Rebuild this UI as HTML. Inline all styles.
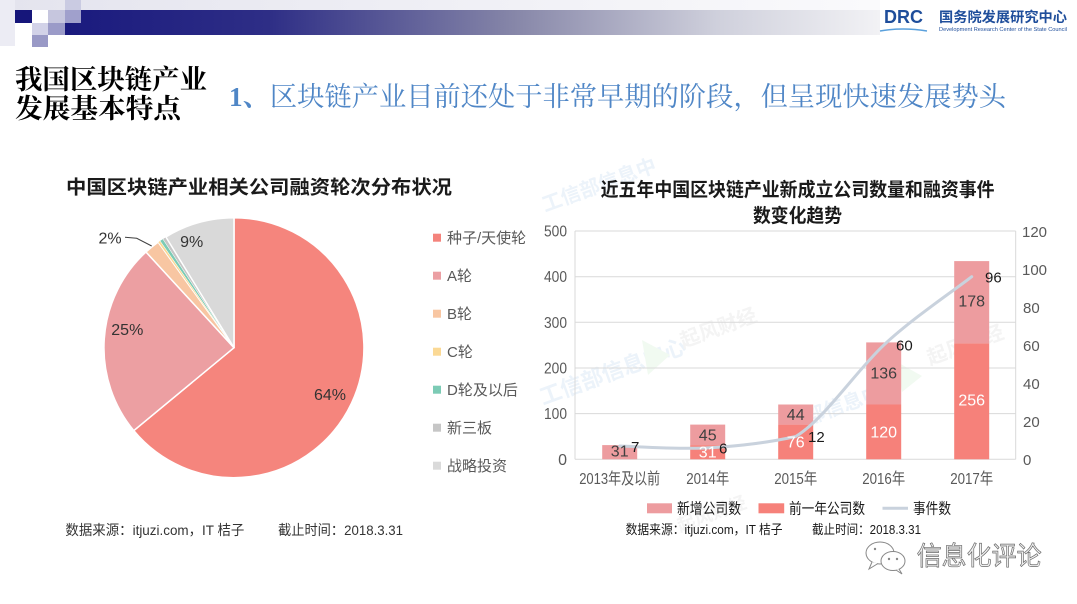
<!DOCTYPE html>
<html><head><meta charset="utf-8"><style>
html,body{margin:0;padding:0;background:#fff;}
svg{display:block;}
text{font-family:"Liberation Sans","Noto Sans CJK SC",sans-serif;}
.serif{font-family:"Liberation Serif","Noto Serif CJK SC",serif;}
</style></head><body>
<svg width="1077" height="604" viewBox="0 0 1077 604" xmlns="http://www.w3.org/2000/svg">
<defs>
<linearGradient id="bar" x1="0" y1="0" x2="1" y2="0">
<stop offset="0" stop-color="#1a1a7e"/>
<stop offset="0.25" stop-color="#2e2e86"/>
<stop offset="0.55" stop-color="#8686a8"/>
<stop offset="0.8" stop-color="#cfd0dc"/>
<stop offset="1" stop-color="#f2f2f5"/>
</linearGradient>
<linearGradient id="top" x1="0" y1="0" x2="1" y2="0">
<stop offset="0" stop-color="#e4e4ee"/>
<stop offset="1" stop-color="#fafafc"/>
</linearGradient>
</defs>
<rect width="1077" height="604" fill="#fff"/>

<!-- header -->
<rect x="0" y="0" width="880" height="10" fill="url(#top)"/>
<rect x="0" y="0" width="15" height="46" fill="#ececf4"/>
<rect x="65" y="10" width="815" height="25" fill="url(#bar)"/>
<rect x="15" y="10" width="17" height="13" fill="#16167a"/>
<rect x="48" y="10" width="17" height="13" fill="#c6c6de"/>
<rect x="65" y="0" width="16" height="10" fill="#cacbe2"/>
<rect x="65" y="10" width="16" height="13" fill="#a0a0cc"/>
<rect x="32" y="23" width="16" height="12" fill="#d2d2e8"/>
<rect x="48" y="23" width="17" height="12" fill="#9b9bc8"/>
<rect x="32" y="35" width="16" height="12" fill="#9999c6"/>

<text x="884" y="23" font-size="18" font-weight="bold" fill="#1f4e9b" textLength="39" lengthAdjust="spacingAndGlyphs">DRC</text>
<path d="M880,31 Q903,27 927,31" stroke="#5aa0dc" stroke-width="1.5" fill="none"/>
<text x="939" y="22" font-size="14" font-weight="bold" fill="#1f4e9b" textLength="128" lengthAdjust="spacingAndGlyphs">国务院发展研究中心</text>
<text x="939" y="31" font-size="5" fill="#1f4e9b" textLength="128" lengthAdjust="spacingAndGlyphs">Development Research Center of the State Council</text>

<!-- titles -->
<text class="serif" x="15" y="89" font-size="27" font-weight="bold" fill="#000" textLength="192" lengthAdjust="spacingAndGlyphs">我国区块链产业</text>
<text class="serif" x="15" y="118" font-size="27" font-weight="bold" fill="#000" textLength="166" lengthAdjust="spacingAndGlyphs">发展基本特点</text>
<text class="serif" x="229" y="106" font-size="27" fill="#4f86c6" textLength="777" lengthAdjust="spacingAndGlyphs"><tspan font-weight="bold">1、</tspan>区块链产业目前还处于非常早期的阶段，但呈现快速发展势头</text>

<!-- watermarks -->
<g opacity="0.35">
<text x="545" y="212" font-size="20" font-weight="bold" fill="#c9dcf0" transform="rotate(-20 545 212)">工信部信息中</text>
<text x="543" y="405" font-size="22" font-weight="bold" fill="#c9dcf0" transform="rotate(-20 543 405)">工信部信息中心</text>
<text x="808" y="425" font-size="20" font-weight="bold" fill="#c9dcf0" transform="rotate(-20 808 425)">部信息中心</text>
<text x="683" y="348" font-size="20" font-weight="bold" fill="#dedede" transform="rotate(-20 683 348)">起风财经</text>
<text x="930" y="365" font-size="20" font-weight="bold" fill="#dedede" transform="rotate(-20 930 365)">起风财经</text>
<text x="680" y="532" font-size="18" font-weight="bold" fill="#dedede" transform="rotate(-20 680 532)">起风财经</text>
<path d="M642,340 L670,355 L648,375 Z" fill="#d8efd8"/>
<path d="M897,362 L922,376 L902,392 Z" fill="#d8efd8"/>
</g>

<!-- PIE -->
<text x="66" y="193.5" font-size="19" font-weight="bold" fill="#1a1a1a" textLength="386" lengthAdjust="spacingAndGlyphs">中国区块链产业相关公司融资轮次分布状况</text>
<g stroke="#fff" stroke-width="1.5" stroke-linejoin="round">
<path d="M234,347.7 L234,217.7 A130,130 0 1 1 133.8,430.6 Z" fill="#f5857d"/>
<path d="M234,347.7 L133.8,430.6 A130,130 0 0 1 146.0,252.0 Z" fill="#ec9fa2"/>
<path d="M234,347.7 L146.0,252.0 A130,130 0 0 1 158.1,242.1 Z" fill="#f8c6a2"/>
<path d="M234,347.7 L158.1,242.1 A130,130 0 0 1 160.0,240.8 Z" fill="#fbd995" stroke-width="0.5"/>
<path d="M234,347.7 L160.0,240.8 A130,130 0 0 1 162.8,238.9 Z" fill="#7ccbb5" stroke-width="0.5"/>
<path d="M234,347.7 L162.8,238.9 A130,130 0 0 1 165.9,237.0 Z" fill="#c6c6c6" stroke-width="0.5"/>
<path d="M234,347.7 L165.9,237.0 A130,130 0 0 1 234,217.7 Z" fill="#d9d9d9"/>
</g>
<polyline points="125,237.3 136.7,238.3 151.7,246" fill="none" stroke="#404040" stroke-width="1"/>
<g font-size="16" fill="#333" text-anchor="middle">
<text x="110" y="243.5">2%</text>
<text x="191.7" y="247">9%</text>
<text x="127.3" y="335">25%</text>
<text x="330" y="400">64%</text>
</g>
<g font-size="15" fill="#595959">
<rect x="433" y="233.7" width="8" height="8" fill="#f4837c"/><text x="447" y="243">种子/天使轮</text>
<rect x="433" y="271.7" width="8" height="8" fill="#eb9fa3"/><text x="447" y="281">A轮</text>
<rect x="433" y="309.7" width="8" height="8" fill="#f8c6a2"/><text x="447" y="319">B轮</text>
<rect x="433" y="347.7" width="8" height="8" fill="#fbd995"/><text x="447" y="357">C轮</text>
<rect x="433" y="385.7" width="8" height="8" fill="#7ccbb5"/><text x="447" y="395">D轮及以后</text>
<rect x="433" y="423.7" width="8" height="8" fill="#c6c6c6"/><text x="447" y="433">新三板</text>
<rect x="433" y="461.7" width="8" height="8" fill="#dadada"/><text x="447" y="471">战略投资</text>
</g>
<text x="65.4" y="535" font-size="14" fill="#333" textLength="179" lengthAdjust="spacingAndGlyphs">数据来源：itjuzi.com，IT 桔子</text>
<text x="278" y="535" font-size="14" fill="#333" textLength="125" lengthAdjust="spacingAndGlyphs">截止时间：2018.3.31</text>

<!-- BAR CHART -->
<text x="600.6" y="196" font-size="19" font-weight="bold" fill="#1a1a1a" textLength="394" lengthAdjust="spacingAndGlyphs">近五年中国区块链产业新成立公司数量和融资事件</text>
<text x="753" y="222" font-size="19" font-weight="bold" fill="#1a1a1a" textLength="89" lengthAdjust="spacingAndGlyphs">数变化趋势</text>

<g stroke="#d9d9d9" stroke-width="1">
<line x1="575" y1="231" x2="1015.7" y2="231"/>
<line x1="575" y1="276.7" x2="1015.7" y2="276.7"/>
<line x1="575" y1="322.3" x2="1015.7" y2="322.3"/>
<line x1="575" y1="368" x2="1015.7" y2="368"/>
<line x1="575" y1="413.6" x2="1015.7" y2="413.6"/>
<line x1="575" y1="459.3" x2="1015.7" y2="459.3"/>
<line x1="575" y1="231" x2="575" y2="459.3"/>
<line x1="1015.7" y1="231" x2="1015.7" y2="459.3"/>
</g>
<g font-size="16" fill="#595959" text-anchor="end">
<text x="567" y="236.5" textLength="23" lengthAdjust="spacingAndGlyphs">500</text>
<text x="567" y="282.2" textLength="23" lengthAdjust="spacingAndGlyphs">400</text>
<text x="567" y="327.8" textLength="23" lengthAdjust="spacingAndGlyphs">300</text>
<text x="567" y="373.5" textLength="23" lengthAdjust="spacingAndGlyphs">200</text>
<text x="567" y="419.1" textLength="23" lengthAdjust="spacingAndGlyphs">100</text>
<text x="567" y="464.8">0</text>
</g>
<g font-size="15" fill="#595959">
<text x="1022" y="237">120</text>
<text x="1022" y="275">100</text>
<text x="1023" y="313">80</text>
<text x="1023" y="351">60</text>
<text x="1023" y="389">40</text>
<text x="1023" y="427">20</text>
<text x="1023" y="465">0</text>
</g>

<!-- bars: prev (bottom) -->
<g fill="#f6817a">
<rect x="690.2" y="445.1" width="35" height="14.2"/>
<rect x="778.2" y="424.6" width="35" height="34.7"/>
<rect x="866.2" y="404.5" width="35" height="54.8"/>
<rect x="954.2" y="343.4" width="35" height="115.9"/>
</g>
<g fill="#ed9c9f">
<rect x="602.2" y="445.1" width="35" height="14.2"/>
<rect x="690.2" y="424.6" width="35" height="20.5"/>
<rect x="778.2" y="404.5" width="35" height="20.1"/>
<rect x="866.2" y="342.4" width="35" height="62.1"/>
<rect x="954.2" y="261.1" width="35" height="82.3"/>
</g>

<path d="M619.7,446 C633.9,446.3 679.5,449.5 707.7,447.9 C736,446.3 767,443 795.7,436.5 C824,419.5 855.3,372 883.7,345.2 C912,318.5 957.5,288 971.7,276.7" fill="none" stroke="#c9d2dd" stroke-width="3" stroke-linecap="round"/>

<g font-size="16" text-anchor="middle">
<text x="619.7" y="456.5" fill="#404040">31</text>
<text x="707.7" y="440.5" fill="#404040">45</text>
<text x="707.7" y="457.5" fill="#fff">31</text>
<text x="795.7" y="420" fill="#404040">44</text>
<text x="795.7" y="447.5" fill="#fff">76</text>
<text x="883.7" y="378.5" fill="#404040">136</text>
<text x="883.7" y="437.5" fill="#fff">120</text>
<text x="971.7" y="306.5" fill="#404040">178</text>
<text x="971.7" y="405.5" fill="#fff">256</text>
</g>
<g font-size="15" fill="#1a1a1a">
<text x="631" y="452">7</text>
<text x="719" y="453.5">6</text>
<text x="808" y="442">12</text>
<text x="896" y="350.5">60</text>
<text x="985" y="282.5">96</text>
</g>
<g font-size="16" fill="#595959" text-anchor="middle">
<text x="619.7" y="484" textLength="81" lengthAdjust="spacingAndGlyphs">2013年及以前</text>
<text x="707.7" y="484" textLength="43" lengthAdjust="spacingAndGlyphs">2014年</text>
<text x="795.7" y="484" textLength="43" lengthAdjust="spacingAndGlyphs">2015年</text>
<text x="883.7" y="484" textLength="43" lengthAdjust="spacingAndGlyphs">2016年</text>
<text x="971.7" y="484" textLength="43" lengthAdjust="spacingAndGlyphs">2017年</text>
</g>

<!-- legend -->
<rect x="647" y="503.3" width="25" height="10" fill="#ed9c9f"/>
<text x="677" y="513.5" font-size="15" fill="#1a1a1a" textLength="64" lengthAdjust="spacingAndGlyphs">新增公司数</text>
<rect x="758.5" y="503.3" width="25.7" height="10" fill="#f6817a"/>
<text x="789" y="513.5" font-size="15" fill="#1a1a1a" textLength="76" lengthAdjust="spacingAndGlyphs">前一年公司数</text>
<line x1="882.5" y1="508.3" x2="908" y2="508.3" stroke="#c9d2dd" stroke-width="3"/>
<text x="913" y="513.5" font-size="15" fill="#1a1a1a" textLength="38" lengthAdjust="spacingAndGlyphs">事件数</text>
<text x="625.6" y="534" font-size="13" fill="#1a1a1a" textLength="157" lengthAdjust="spacingAndGlyphs">数据来源：itjuzi.com，IT 桔子</text>
<text x="812" y="534" font-size="13" fill="#1a1a1a" textLength="109" lengthAdjust="spacingAndGlyphs">截止时间：2018.3.31</text>

<!-- wechat mark -->
<g fill="#fff" stroke="#888" stroke-width="1">
<ellipse cx="880" cy="553" rx="14" ry="11"/>
<path d="M872,562 L869,569 L878,563.5" />
<ellipse cx="893" cy="561" rx="12" ry="9.5"/>
<path d="M899,569 L902,574 L896,570" />
</g>
<g fill="#888"><circle cx="889" cy="559" r="1.2"/><circle cx="897" cy="559" r="1.2"/><circle cx="875" cy="549" r="1.2"/></g>
<text x="916.7" y="565" font-size="26" fill="#f0f0f0" stroke="#6a6a6a" stroke-width="0.7" textLength="125" lengthAdjust="spacingAndGlyphs">信息化评论</text>
</svg>
</body></html>
